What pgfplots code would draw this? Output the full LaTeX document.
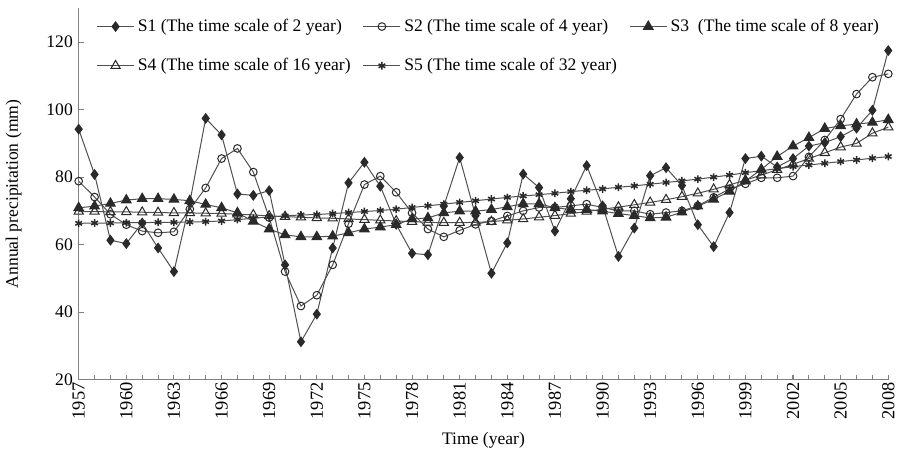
\documentclass[border=0pt]{standalone}
\usepackage{fontspec}
\setmainfont{Liberation Serif}
\usepackage{pgfplots}
\usepackage{pgfplotstable}
\pgfplotsset{compat=1.18}

\definecolor{ln}{HTML}{505050}
\definecolor{mk}{HTML}{2A2A2A}
\definecolor{ax}{HTML}{808080}

% annual precipitation at five time scales
\pgfplotstableread{
year s1 s2 s3 s4 s5
1957 94.2 78.8 70.9 69.8 66.3
1958 80.8 74.1 71.4 69.8 66.4
1959 61.3 69.0 72.2 69.7 66.4
1960 60.3 65.9 73.2 69.7 66.5
1961 66.4 64.0 73.6 69.6 66.5
1962 59.0 63.5 73.6 69.5 66.6
1963 52.0 63.8 73.4 69.4 66.6
1964 72.5 70.5 73.0 69.4 66.7
1965 97.4 76.8 71.9 69.3 66.8
1966 92.5 85.5 70.9 69.2 67.0
1967 75.0 88.5 69.4 69.0 67.4
1968 74.6 81.5 66.9 68.8 67.8
1969 76.0 68.0 64.6 68.5 68.2
1970 54.0 52.0 62.9 68.3 68.5
1971 31.2 41.8 62.3 68.1 68.8
1972 39.4 45.0 62.3 67.9 68.9
1973 59.0 54.0 62.5 67.8 69.2
1974 78.3 66.2 63.5 67.6 69.5
1975 84.4 77.8 64.6 67.4 69.8
1976 77.3 80.3 65.2 67.2 70.1
1977 66.0 75.5 65.9 67.0 70.5
1978 57.4 69.4 67.6 66.8 71.0
1979 57.0 64.6 67.9 66.6 71.5
1980 71.4 62.3 69.4 66.5 72.0
1981 85.8 64.2 69.9 66.5 72.5
1982 68.6 66.0 69.9 66.6 73.0
1983 51.5 67.0 70.4 66.8 73.5
1984 60.5 68.5 71.2 67.2 74.0
1985 80.9 70.0 72.1 67.6 74.4
1986 76.9 71.0 72.1 68.1 74.8
1987 64.0 71.0 70.9 68.6 75.2
1988 73.6 71.5 70.4 69.2 75.7
1989 83.4 72.0 70.4 69.8 76.1
1990 71.5 71.0 69.9 70.5 76.5
1991 56.5 70.0 69.2 71.1 77.0
1992 64.9 70.0 68.6 71.8 77.4
1993 80.4 69.0 67.9 72.5 77.9
1994 82.8 69.5 68.1 73.3 78.4
1995 77.5 70.0 69.6 74.2 78.9
1996 65.9 71.5 71.4 75.2 79.4
1997 59.4 74.0 73.4 76.4 80.0
1998 69.5 76.5 75.8 77.7 80.6
1999 85.5 78.0 78.8 79.1 81.3
2000 86.2 79.8 82.3 80.6 81.9
2001 83.0 79.8 86.1 82.2 82.5
2002 85.5 80.3 89.2 83.8 83.1
2003 89.2 86.0 91.7 85.5 83.6
2004 90.2 91.0 94.4 87.2 84.1
2005 92.0 97.2 95.2 88.9 84.6
2006 94.5 104.6 95.7 90.0 85.1
2007 99.8 109.6 96.2 93.0 85.6
2008 117.5 110.6 97.0 94.8 86.1
}\precip

\newcommand{\legbox}[1]{\makebox[132bp][l]{#1}}

\begin{document}
\begin{tikzpicture}
\begin{axis}[
  scale only axis, width=482bp, height=221bp,
  xmin=1957, xmax=2008, ymin=20, ymax=130,
  axis x line*=bottom, axis y line*=left,
  axis line style={ax, line width=0.8pt, -},
  xtick={1957,1960,...,2008}, minor xtick={1957,...,2008},
  ytick={20,40,...,120},
  xtick align=inside, ytick align=inside,
  major tick length=3bp, minor tick length=3bp,
  every tick/.style={ax, line width=0.6pt},
  /pgf/number format/1000 sep={},
  /pgf/number format/assume math mode=true,
  xticklabel style={rotate=90, anchor=east, font=\fontsize{11}{13}\selectfont, inner sep=1.5bp},
  yticklabel style={font=\fontsize{10.5}{12}\selectfont},
  xlabel={Time (year)}, ylabel={Annual precipitation (mm)},
  label style={font=\fontsize{10.5}{12}\selectfont},
  xlabel style={yshift=-3bp},
  ylabel style={yshift=8bp},
  legend columns=3,
  legend cell align=left,
  legend style={at={(0.0155,0.99)}, anchor=north west, draw=none, fill=none,
    font=\fontsize{10.5}{12}\selectfont, row sep=10.5bp,
    /tikz/every even column/.append style={column sep=0bp}},
  legend image code/.code={\draw[mark repeat=2,mark phase=2,#1]
    plot coordinates {(0bp,0bp)(11bp,0bp)(22bp,0bp)};},
  extra description/.code={\path (rel axis cs:0,1) ++(0,5bp);},
]
\addplot[ln, line width=0.6pt, mark=diamond*, mark size=2.8pt,
  mark options={mk, fill=mk}] table[x=year, y=s1] {\precip};
\addlegendentry{\legbox{S1 (The time scale of 2 year)}}
\addplot[ln, line width=0.6pt, mark=o, mark size=2.3pt,
  mark options={mk, fill=white}] table[x=year, y=s2] {\precip};
\addlegendentry{\legbox{S2 (The time scale of 4 year)}}
\addplot[ln, line width=0.6pt, mark=triangle*, mark size=3.3pt,
  mark options={mk, fill=mk}] table[x=year, y=s3] {\precip};
\addlegendentry{S3\ \ (The time scale of 8 year)}
\addplot[ln, line width=0.6pt, mark=triangle, mark size=3.2pt,
  mark options={mk, fill=white}] table[x=year, y=s4] {\precip};
\addlegendentry{\legbox{S4 (The time scale of 16 year)}}
\addplot[ln, line width=0.6pt, mark=asterisk, mark size=2.3pt,
  mark options={mk, line width=0.9pt}] table[x=year, y=s5] {\precip};
\addlegendentry{\legbox{S5 (The time scale of 32 year)}}
\end{axis}
\end{tikzpicture}
\end{document}
